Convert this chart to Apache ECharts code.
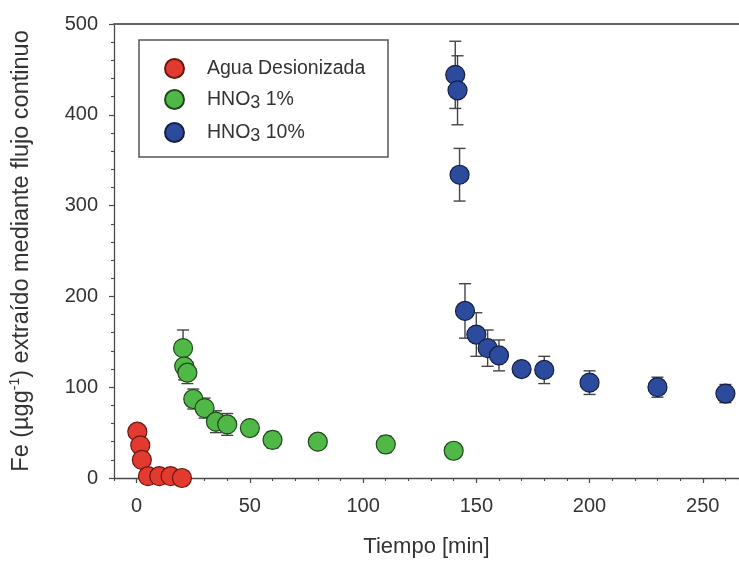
<!DOCTYPE html>
<html>
<head>
<meta charset="utf-8">
<script src="https://cdn.jsdelivr.net/npm/echarts@6/dist/echarts.min.js"></script>
<style>
    html, body {margin: 0; padding: 0; background: #fff;}
    #chart {width: 739px; height: 563px;}
</style>
</head>
<body>
<div id="chart"></div>
<script>
    // datos
    const aguaX = [0.3, 1.6, 2.3, 5, 10, 15, 20];
    const aguaY = [51, 36, 20, 2, 2, 2, 0];

    const hno1X = [20.5, 21, 22.4, 25, 30, 35, 40, 50, 60, 80, 110, 140];
    const hno1Y = [143, 123, 116, 87, 77, 62, 59, 55, 42, 40, 37, 30];
    const hno1Err = [20, 15, 12, 11, 11, 12, 12, 4, 9, 4, 9, 4];

    const hno10X = [140.7, 141.7, 142.6, 145, 150, 155, 160, 170, 180, 200, 230, 260];
    const hno10Y = [444, 427, 334, 184, 158, 143, 135, 120, 119, 105, 100, 93];
    const hno10Err = [37, 38, 29, 30, 24, 20, 17, 4, 15, 13, 11, 10];

    const xLabels = [0, 50, 100, 150, 200, 250];
    const seriesNames = ['Agua Desionizada', 'HNO3 1%', 'HNO3 10%'];

    const font = "'Liberation Sans', Arial, sans-serif";
    const axisColor = '#4a4a4a';

    function pts(xs, ys) {
        return xs.map((x, i) => [x, ys[i]]);
    }
    function errs(xs, ys, es) {
        return xs.map((x, i) => [x, ys[i] - es[i], ys[i] + es[i]]);
    }

    function renderErr(params, api) {
        const x = api.value(0);
        const top = api.coord([x, api.value(2)]);
        const bot = api.coord([x, api.value(1)]);
        const w = 6;
        const style = {stroke: '#444', lineWidth: 1.4};
        return {
            type: 'group',
            children: [
                {type: 'line', shape: {x1: top[0], y1: top[1], x2: bot[0], y2: bot[1]}, style: style},
                {type: 'line', shape: {x1: top[0] - w, y1: top[1], x2: top[0] + w, y2: top[1]}, style: style},
                {type: 'line', shape: {x1: bot[0] - w, y1: bot[1], x2: bot[0] + w, y2: bot[1]}, style: style}
            ]
        };
    }

    const legendText = {
        'Agua Desionizada': '{g|}{t|Agua Desionizada}',
        'HNO3 1%': '{g|}{t|HNO}{s|3}{t| 1%}',
        'HNO3 10%': '{g|}{t|HNO}{s|3}{t| 10%}'
    };

    const myChart = echarts.init(document.getElementById('chart'));
    myChart.setOption({
        animation: false,
        textStyle: {fontFamily: font},
        grid: {left: 114, right: 0, top: 24, bottom: 82},
        graphic: [{
            type: 'rect',
            shape: {x: 139, y: 40, width: 249, height: 117},
            style: {fill: 'none', stroke: '#555', lineWidth: 1.5},
            z: 10
        }],
        legend: {
            data: seriesNames,
            orient: 'vertical',
            left: 164,
            top: 58,
            itemWidth: 19,
            itemHeight: 19,
            itemGap: 7,
            padding: 0,
            formatter: name => legendText[name],
            textStyle: {
                fontFamily: font,
                rich: {
                    g: {width: 18, lineHeight: 25},
                    t: {fontSize: 19.5, color: '#333', lineHeight: 25, verticalAlign: 'middle', fontFamily: font},
                    s: {fontSize: 18, color: '#333', lineHeight: 25, verticalAlign: 'bottom', padding: [8, 0, 0, 0], fontFamily: font}
                }
            }
        },
        xAxis: [
            {
                type: 'value', min: -10, max: 266, position: 'bottom',
                axisLine: {onZero: false, lineStyle: {color: axisColor, width: 1.3}},
                axisTick: {customValues: xLabels, length: 5, lineStyle: {color: axisColor, width: 1.2}},
                axisLabel: {customValues: xLabels, fontSize: 20, color: '#333', margin: 18, fontFamily: font},
                splitLine: {show: false},
                name: 'Tiempo [min]', nameLocation: 'middle', nameGap: 58,
                nameTextStyle: {fontSize: 22, color: '#333', fontFamily: font}
            },
            {
                type: 'value', min: -10, max: 266, interval: 10, position: 'bottom',
                axisLine: {show: false},
                axisTick: {length: 3, lineStyle: {color: axisColor, width: 1.1}},
                axisLabel: {show: false},
                splitLine: {show: false}
            },
            {
                type: 'value', min: -10, max: 266, position: 'top',
                axisLine: {onZero: false, lineStyle: {color: '#666', width: 1.8}},
                axisTick: {show: false},
                axisLabel: {show: false},
                splitLine: {show: false}
            }
        ],
        yAxis: {
            type: 'value', min: 0, max: 500, interval: 100,
            axisLine: {show: true, onZero: false, lineStyle: {color: axisColor, width: 1.3}},
            axisTick: {show: true, length: 5, lineStyle: {color: axisColor, width: 1.2}},
            minorTick: {show: true, splitNumber: 5, length: 3, lineStyle: {color: axisColor, width: 1.1}},
            axisLabel: {fontSize: 20, color: '#333', margin: 16, fontFamily: font},
            splitLine: {show: false},
            name: '{a|Fe (µgg}{b|-1}{a|) extraído mediante flujo continuo}',
            nameLocation: 'middle', nameGap: 78,
            nameTextStyle: {
                rich: {
                    a: {fontSize: 23.5, color: '#333', lineHeight: 28, verticalAlign: 'middle', fontFamily: font},
                    b: {fontSize: 14, color: '#333', lineHeight: 28, verticalAlign: 'top', fontFamily: font}
                }
            }
        },
        series: [
            {
                name: 'err1', type: 'custom', renderItem: renderErr,
                encode: {x: 0, y: [1, 2]}, data: errs(hno1X, hno1Y, hno1Err), z: 1
            },
            {
                name: 'err10', type: 'custom', renderItem: renderErr,
                encode: {x: 0, y: [1, 2]}, data: errs(hno10X, hno10Y, hno10Err), z: 1
            },
            {
                name: seriesNames[0], type: 'scatter', symbolSize: 19, z: 3,
                itemStyle: {color: '#e23a2e', borderColor: '#6a1712', borderWidth: 1.2, opacity: 1},
                data: pts(aguaX, aguaY)
            },
            {
                name: seriesNames[1], type: 'scatter', symbolSize: 19, z: 3,
                itemStyle: {color: '#4fb847', borderColor: '#20481c', borderWidth: 1.2, opacity: 1},
                data: pts(hno1X, hno1Y)
            },
            {
                name: seriesNames[2], type: 'scatter', symbolSize: 19, z: 3,
                itemStyle: {color: '#2d4b9d', borderColor: '#141f45', borderWidth: 1.2, opacity: 1},
                data: pts(hno10X, hno10Y)
            }
        ]
    });
</script>
</body>
</html>
